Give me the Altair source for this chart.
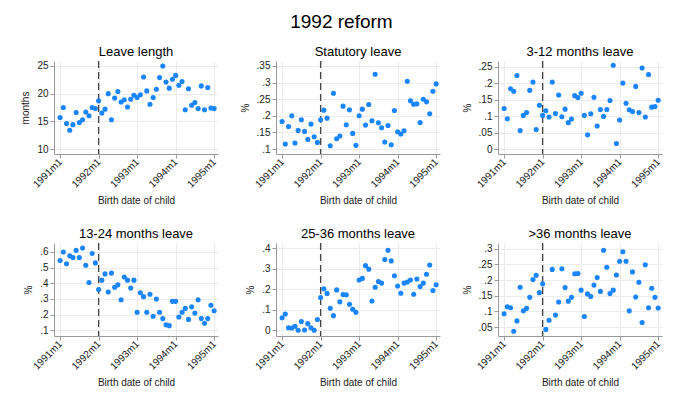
import altair as alt
import pandas as pd

# month index: 0 = 1991m1 ... 48 = 1995m1
months = list(range(49))
reform_month = [12]
year_ticks = [0, 12, 24, 36, 48]

leave_length = [
    15.7, 17.5, 14.6, 13.4, 14.4, 16.6, 14.8, 15.3, 16.7, 16.0, 17.5, 17.3,
    18.7, 16.5, 17.2, 20.0, 15.3, 19.2, 20.4, 18.5, 18.9, 17.6, 19.0, 19.7,
    19.3, 19.8, 23.0, 20.5, 18.1, 19.3, 20.8, 22.9, 25.0, 22.1, 21.0, 22.6,
    23.3, 21.5, 22.2, 17.1, 20.9, 17.9, 18.4, 17.3, 21.4, 17.1, 21.1, 17.4,
    17.3,
]
statutory = [
    .183, .115, .168, .200, .118, .156, .188, .153, .129, .175, .137, .120,
    .188, .217, .193, .110, .268, .131, .139, .229, .173, .218, .147, .111,
    .200, .220, .172, .234, .185, .325, .179, .164, .121, .171, .113, .216,
    .152, .145, .155, .304, .245, .235, .236, .180, .250, .242, .206, .274,
    .296,
]
m3_12 = [
    .123, .092, .183, .175, .223, .056, .102, .111, .178, .203, .059, .133,
    .102, .116, .097, .203, .108, .164, .098, .121, .080, .091, .162, .156,
    .169, .102, .043, .107, .157, .070, .120, .099, .120, .147, .254, .017,
    .088, .200, .139, .119, .114, .190, .111, .246, .097, .226, .127, .129,
    .148,
]
m13_24 = [
    .545, .600, .525, .575, .565, .610, .565, .625, .515, .405, .590, .530,
    .360, .420, .460, .345, .465, .375, .390, .295, .440, .420, .370, .420,
    .215, .340, .315, .215, .330, .190, .300, .215, .175, .135, .130, .285,
    .285, .185, .215, .240, .170, .250, .210, .295, .175, .145, .175, .260,
    .225,
]
m25_36 = [
    .062, .080, .013, .012, .020, .001, .043, .002, .033, .013, .001, .053,
    .160, .203, .180, .108, .072, .197, .139, .175, .173, .127, .103, .088,
    .245, .253, .315, .298, .143, .210, .238, .230, .345, .390, .338, .266,
    .216, .181, .230, .235, .245, .176, .250, .213, .230, .273, .318, .194,
    .222,
]
m36_plus = [
    .093, .115, .112, .037, .070, .177, .102, .110, .145, .202, .215, .160,
    .188, .043, .072, .234, .089, .130, .236, .176, .133, .145, .220, .221,
    .168, .084, .156, .148, .184, .208, .164, .295, .241, .157, .168, .216,
    .260, .290, .260, .102, .226, .146, .193, .065, .249, .112, .174, .145,
    .111,
]

panels = [
    ("Leave length", "months", leave_length, [9.1, 25.9], [10, 15, 20, 25]),
    ("Statutory leave", "%", statutory, [0.085, 0.365],
     [0.1, 0.15, 0.2, 0.25, 0.3, 0.35]),
    ("3-12 months leave", "%", m3_12, [-0.015, 0.267],
     [0, 0.05, 0.1, 0.15, 0.2, 0.25]),
    ("13-24 months leave", "%", m13_24, [0.064, 0.657],
     [0.1, 0.2, 0.3, 0.4, 0.5, 0.6]),
    ("25-36 months leave", "%", m25_36, [-0.027, 0.425],
     [0, 0.1, 0.2, 0.3, 0.4]),
    (">36 months leave", "%", m36_plus, [0.022, 0.318],
     [0.05, 0.1, 0.15, 0.2, 0.25, 0.3]),
]

BLUE = "#1a85ff"
FONT = "Liberation Sans"


def panel(title, ytitle, values, ydomain, yticks):
    df = pd.DataFrame({"month": months, "value": values})

    x = alt.X("month:Q", title="Birth date of child",
              scale=alt.Scale(domain=[-1.9, 49.2], nice=False, zero=False),
              axis=alt.Axis(values=year_ticks, labelAngle=315,
                            labelAlign="right", labelBaseline="middle",
                            labelExpr="(1991 + datum.value / 12) + 'm1'"))
    y = alt.Y("value:Q", title=ytitle,
              scale=alt.Scale(domain=ydomain, nice=False, zero=False),
              axis=alt.Axis(values=yticks,
                            labelExpr="replace(format(datum.value, '~g'), '0.', '.')"))

    points = alt.Chart(df).mark_circle(size=26, color=BLUE, opacity=1).encode(
        x=x, y=y)

    rule = alt.Chart(pd.DataFrame({"month": reform_month})).mark_rule(
        color="#444444", strokeDash=[7, 4], strokeWidth=1.3
    ).encode(x="month:Q")

    return alt.layer(rule, points).properties(
        width=164, height=93,
        title=alt.TitleParams(title, fontSize=13, fontWeight="normal",
                              font=FONT, offset=1))


charts = [panel(*p) for p in panels]

chart = alt.concat(
    *charts, columns=3,
    spacing=alt.RowColnumber(row=89, column=58),
    bounds="flush",
).properties(
    title=alt.TitleParams("1992 reform", fontSize=19, fontWeight="normal",
                          font=FONT, anchor="middle", offset=14),
    padding={"left": 12, "top": 5, "right": 5, "bottom": 5},
).configure_view(
    stroke=None
).configure_axis(
    labelFont=FONT, titleFont=FONT, labelFontSize=10, titleFontSize=10,
    titleFontWeight="normal", labelColor="#222222", titleColor="#222222",
    domainColor="#9a9a9a", tickColor="#9a9a9a", tickSize=4,
    gridColor="#ececec", labelPadding=2,
).configure_axisY(
    titlePadding=6,
).configure_axisX(
    titlePadding=6,
)

chart.save("out.html", embed_options={"renderer": "svg", "actions": False})
